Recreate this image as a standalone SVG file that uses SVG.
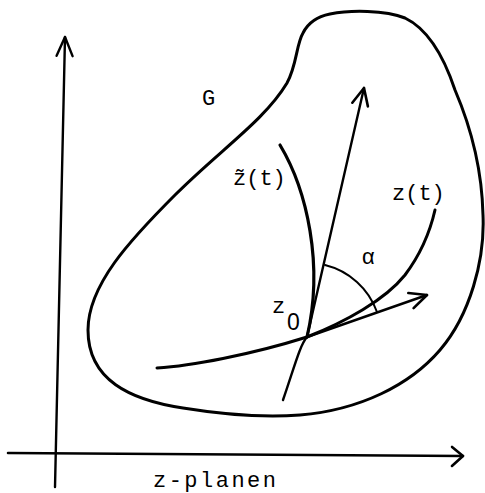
<svg xmlns="http://www.w3.org/2000/svg" width="485" height="493" viewBox="0 0 485 493">
<style>
.ln{fill:none;stroke:#000;stroke-linecap:round;stroke-linejoin:round}
.t{font-family:"Liberation Mono","DejaVu Sans Mono","Courier New",monospace;font-size:22px;fill:#000}
.s{font-family:"Liberation Sans",Arial,sans-serif;fill:#000}
</style>
<defs>
<marker id="arr" markerUnits="userSpaceOnUse" viewBox="-22 -12 26 24" markerWidth="26" markerHeight="24" refX="0" refY="0" orient="auto" overflow="visible">
<path d="M-17,-8 L0,0 L-17,8" fill="none" stroke="#000" stroke-width="2.6" stroke-linecap="round" stroke-linejoin="round"/>
</marker>
<marker id="arrAxisV" markerUnits="userSpaceOnUse" viewBox="-22 -12 26 24" markerWidth="26" markerHeight="24" refX="0" refY="0" orient="auto" overflow="visible">
<path d="M-19,-8 L0,0 L-19,8" fill="none" stroke="#000" stroke-width="2.4" stroke-linecap="round" stroke-linejoin="round"/>
</marker>
<marker id="arrAxisH" markerUnits="userSpaceOnUse" viewBox="-22 -12 26 24" markerWidth="26" markerHeight="24" refX="0" refY="0" orient="auto" overflow="visible">
<path d="M-11,-9 L0,0 L-11,10" fill="none" stroke="#000" stroke-width="2.6" stroke-linecap="round" stroke-linejoin="round"/>
</marker>
</defs>
<rect width="485" height="493" fill="#fff"/>

<g id="axes">
<path class="ln" d="M55,487 L65,37" stroke-width="2.4" marker-end="url(#arrAxisV)"/>
<path class="ln" d="M8,453 L463,456" stroke-width="2.6" marker-end="url(#arrAxisH)"/>
</g>

<g id="region-G">
<path class="ln" stroke-width="3" d="M303,33 C296,45 297,65 287,83 C265,120 220,150 175,195 C130,240 88,285 88,330 C88,380 130,400 183,408 C220,414 260,418 300,415 C360,410 410,385 440,350 C470,315 485,260 483,215 C482,170 470,125 455,90 C445,60 430,30 405,18 C385,10 350,10 330,14 C315,17 307,25 303,33 Z"/>
<text class="t" x="202" y="105" font-size="20">G</text>
</g>

<g id="connectors">
<path id="curve-z" class="ln" stroke-width="3" d="M157,368 C190,366 250,355 307,337 C345,322 385,300 405,275 C420,255 430,232 435,210"/>
<path id="curve-ztilde" class="ln" stroke-width="3.2" d="M280,145 C307,190 324,265 307,337"/>
<path id="tangent-ztilde" class="ln" stroke-width="2.4" d="M283,400 C295,365 300,345 307,337 M307,337 C318,290 340,190 364,88" marker-end="url(#arr)"/>
<path id="tangent-z" class="ln" stroke-width="2.4" d="M307,337 L427,295" marker-end="url(#arr)"/>
<path id="angle-arc" class="ln" stroke-width="2" d="M325,265 A74,74 0 0 1 377,312"/>
</g>

<g id="labels">
<text class="t" x="233" y="185">z̃(t)</text>
<text class="t" x="392" y="200">z(t)</text>
<text class="s" x="362" y="264" font-size="22">α</text>
<text class="t" x="272" y="313">z</text>
<text class="s" x="287" y="330" font-size="23">0</text>
<text class="t" x="153" y="487" textLength="123" lengthAdjust="spacing">z-planen</text>
</g>
</svg>
